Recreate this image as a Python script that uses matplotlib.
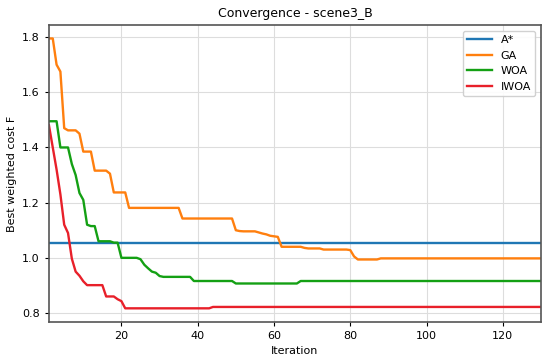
import matplotlib
matplotlib.use("Agg")
import matplotlib.pyplot as plt
import numpy as np

iterations = list(range(1, 131))

astar_value = 1.052

ga = ([1.795, 1.795, 1.70, 1.675, 1.47, 1.462, 1.462, 1.462, 1.45, 1.385,
       1.385, 1.385, 1.316, 1.316, 1.316, 1.316, 1.305, 1.237, 1.237, 1.237,
       1.237] + [1.181] * 14 + [1.1425] * 14 +
      [1.100, 1.097, 1.096, 1.096, 1.096, 1.096, 1.092, 1.088, 1.085, 1.080,
       1.078, 1.076, 1.040, 1.040, 1.040, 1.040, 1.040, 1.040, 1.036, 1.034,
       1.034, 1.034, 1.034] + [1.030] * 7 + [1.028, 1.005] +
      [0.994] * 6 + [0.998] * 43)

woa = ([1.495, 1.495, 1.495, 1.400, 1.400, 1.400, 1.340, 1.300, 1.235, 1.210,
        1.120, 1.115, 1.115, 1.060, 1.060, 1.060, 1.060, 1.055, 1.055] +
       [1.000] * 5 + [0.995, 0.975, 0.962, 0.950, 0.946, 0.934] +
       [0.931] * 8 + [0.916] * 11 + [0.907] * 17 + [0.916] * 64)

iwoa = ([1.48, 1.40, 1.32, 1.23, 1.12, 1.09, 0.997, 0.95, 0.935, 0.915,
         0.901, 0.901, 0.901, 0.901, 0.901, 0.860, 0.860, 0.860, 0.850, 0.843] +
        [0.817] * 23 + [0.822] * 87)

astar = [astar_value] * len(iterations)

fig = plt.figure(figsize=(5.5, 3.62), dpi=100)
ax = fig.add_axes([0.089, 0.111, 0.8946, 0.82])

ax.plot(iterations, astar, color="#1f77b4", lw=1.7, label="A*")
ax.plot(iterations, ga, color="#ff7f0e", lw=1.7, label="GA")
ax.plot(iterations, woa, color="#14a014", lw=1.7, label="WOA")
ax.plot(iterations, iwoa, color="#e8202a", lw=1.7, label="IWOA")

ax.set_xlim(1, 130)
ax.margins(y=0.05)
ax.set_xticks([20, 40, 60, 80, 100, 120])
ax.set_yticks([0.8, 1.0, 1.2, 1.4, 1.6, 1.8])
ax.grid(True, color="#dddddd", lw=0.8)
ax.set_axisbelow(True)
for s in ax.spines.values():
    s.set_color("#555555")
    s.set_linewidth(1.2)
ax.tick_params(labelsize=8, length=3, width=0.8)

ax.set_title("Convergence - scene3_B", fontsize=9)
ax.set_xlabel("Iteration", fontsize=8)
ax.set_ylabel("Best weighted cost F", fontsize=8)
ax.legend(loc="upper right", fontsize=8, handlelength=2.2, framealpha=0.9)

fig.savefig("out.png", dpi=100)
